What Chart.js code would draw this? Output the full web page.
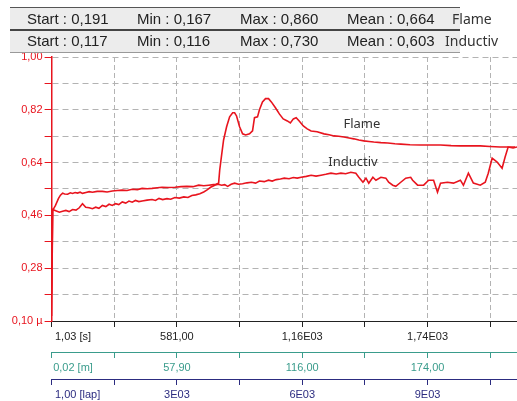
<!DOCTYPE html>
<html>
<head>
<meta charset="utf-8">
<script src="https://cdn.jsdelivr.net/npm/chart.js@4.4.0/dist/chart.umd.min.js"></script>
<style>
  html, body { margin: 0; padding: 0; background: #fff; }
  #wrap { position: relative; width: 517px; height: 401px; overflow: hidden; }
  #chart { position: absolute; left: 0; top: 0; }
  .row { position: absolute; left: 10px; width: 450px; background: #ececec; }
  .stat { position: absolute; font: 15px "Liberation Sans", Arial, sans-serif; color: #222; white-space: nowrap; }
  .name { position: absolute; font: 14px "Noto Sans", sans-serif; color: #333; white-space: nowrap; }
</style>
</head>
<body>
<div id="wrap">
  <canvas id="chart" width="517" height="401"></canvas>
  <div class="row" style="top:7px;height:21px;border-top:1px solid #555;"></div>
  <div class="row" style="top:29px;height:21px;border-top:2px solid #444;border-bottom:1px solid #999;"></div>
  <div id="hdr"></div>
</div>
<script>
'use strict';

// series names and header statistics
const seriesNames = ['Flame', 'Inductiv'];
const statsFlame = ['Start : 0,191', 'Min : 0,167', 'Max : 0,860', 'Mean : 0,664'];
const statsInductiv = ['Start : 0,117', 'Min : 0,116', 'Max : 0,730', 'Mean : 0,603'];

// time axis [s]
const xTicks = [1.03, 291, 581, 871, 1161, 1451, 1741, 2031];
const xLabelsTime = ['1,03 [s]', '', '581,00', '', '1,16E03', '', '1,74E03', ''];
const xLabelsDist = ['0,02 [m]', '', '57,90', '', '116,00', '', '174,00', ''];
const xLabelsLap = ['1,00 [lap]', '', '3E03', '', '6E03', '', '9E03', ''];

// value axis
const yTicks = [0.10, 0.19, 0.28, 0.37, 0.46, 0.55, 0.64, 0.73, 0.82, 0.91, 1.00];
const yLabels = ['0,10 µ', '', '0,28', '', '0,46', '', '0,64', '', '0,82', '', '1,00'];

// Flame series (time, value)
const flameTime = [1, 6, 19, 33, 42, 52, 61, 75, 88, 98, 110, 121, 133, 144, 160, 175, 190, 212, 236, 258,
  282, 305, 328, 350, 374, 398, 420, 444, 466, 490, 512, 540, 572, 600, 627, 655, 682, 705, 728, 750,
  761, 774, 779, 788, 797, 811, 825, 839, 848, 857, 871, 885, 899, 917, 931, 940, 954, 963, 977, 991,
  1005, 1018, 1037, 1055, 1073, 1092, 1106, 1120, 1133, 1147, 1166, 1184, 1202, 1230, 1262, 1285, 1308, 1330, 1354, 1378,
  1400, 1423, 1446, 1470, 1492, 1525, 1557, 1590, 1617, 1660, 1709, 1760, 1801, 1850, 1893, 1940, 1985, 2030, 2077, 2123, 2146];
const flameValue = [0.191, 0.477, 0.494, 0.518, 0.529, 0.536, 0.533, 0.532, 0.537, 0.535, 0.538, 0.536, 0.539, 0.535, 0.538, 0.541, 0.539, 0.542, 0.542, 0.540,
  0.543, 0.545, 0.546, 0.545, 0.549, 0.548, 0.552, 0.551, 0.552, 0.554, 0.556, 0.555, 0.556, 0.558, 0.559, 0.558, 0.563, 0.561, 0.563, 0.565,
  0.566, 0.570, 0.614, 0.666, 0.717, 0.762, 0.796, 0.810, 0.810, 0.799, 0.762, 0.738, 0.734, 0.738, 0.748, 0.793, 0.796, 0.820, 0.847, 0.858,
  0.858, 0.847, 0.827, 0.806, 0.789, 0.782, 0.775, 0.789, 0.793, 0.782, 0.765, 0.755, 0.748, 0.745, 0.738, 0.735, 0.731, 0.730, 0.727, 0.724,
  0.721, 0.717, 0.714, 0.712, 0.710, 0.708, 0.707, 0.704, 0.703, 0.701, 0.700, 0.700, 0.700, 0.698, 0.697, 0.697, 0.697, 0.695, 0.693, 0.693, 0.693];

// Inductiv series (time, value)
const inductivTime = [1, 6, 20, 37, 52, 67, 82, 98, 114, 129, 144, 159, 175, 190, 205, 220, 236, 252, 267, 282,
  297, 312, 328, 344, 359, 374, 389, 405, 420, 443, 466, 482, 498, 515, 535, 552, 572, 592, 613, 632,
  650, 668, 687, 705, 719, 737, 756, 772, 788, 802, 816, 832, 848, 866, 885, 905, 926, 945, 963, 985,
  1005, 1022, 1041, 1060, 1078, 1100, 1120, 1138, 1156, 1180, 1202, 1225, 1248, 1270, 1294, 1318, 1340, 1362, 1386, 1409,
  1423, 1442, 1456, 1469, 1488, 1502, 1525, 1548, 1561, 1580, 1594, 1617, 1640, 1663, 1672, 1695, 1723, 1746, 1769, 1787,
  1801, 1833, 1861, 1893, 1907, 1930, 1953, 1985, 2008, 2022, 2040, 2063, 2086, 2100, 2114, 2137, 2155];
const inductivValue = [0.117, 0.480, 0.476, 0.471, 0.474, 0.477, 0.473, 0.480, 0.478, 0.486, 0.500, 0.488, 0.486, 0.483, 0.488, 0.484, 0.494, 0.490, 0.498, 0.494,
  0.500, 0.497, 0.506, 0.502, 0.509, 0.505, 0.511, 0.507, 0.509, 0.512, 0.514, 0.511, 0.518, 0.514, 0.517, 0.515, 0.521, 0.519, 0.523, 0.521,
  0.528, 0.530, 0.534, 0.540, 0.546, 0.556, 0.563, 0.566, 0.563, 0.565, 0.559, 0.566, 0.570, 0.566, 0.568, 0.571, 0.573, 0.570, 0.577, 0.575,
  0.580, 0.577, 0.582, 0.584, 0.587, 0.585, 0.589, 0.587, 0.590, 0.593, 0.597, 0.594, 0.597, 0.600, 0.604, 0.601, 0.604, 0.602, 0.607, 0.604,
  0.590, 0.573, 0.587, 0.570, 0.590, 0.580, 0.590, 0.587, 0.573, 0.563, 0.559, 0.573, 0.587, 0.590, 0.580, 0.563, 0.563, 0.580, 0.580, 0.539,
  0.570, 0.573, 0.570, 0.580, 0.563, 0.604, 0.570, 0.563, 0.573, 0.604, 0.655, 0.642, 0.621, 0.659, 0.693, 0.690, 0.693];

// in-plot series names, anchored in data units
const plotNames = [
  {text: 'Flame', time: 1437, value: 0.769},
  {text: 'Inductiv', time: 1396, value: 0.642}
];

// header rows
const hdr = document.getElementById('hdr');
const statLeft = [27, 137, 240, 347];
function headerRow(stats, name, top, nameLeft){
  for(let i = 0; i < stats.length; i++){
    const el = document.createElement('div');
    el.className = 'stat';
    el.style.left = statLeft[i] + 'px';
    el.style.top = top + 'px';
    el.textContent = stats[i];
    hdr.appendChild(el);
  }
  const nm = document.createElement('div');
  nm.className = 'name';
  nm.style.left = nameLeft + 'px';
  nm.style.top = (top - 1) + 'px';
  nm.textContent = name;
  hdr.appendChild(nm);
}
headerRow(statsFlame, seriesNames[0], 10, 452);
headerRow(statsInductiv, seriesNames[1], 32, 445);

// left-aligned first label: pad with spaces so the centred text starts at the tick
function padFirst(label, i){
  if(i !== 0) return label;
  return ' '.repeat(Math.round(label.length * 1.7)) + label;
}

function toPoints(xs, ys){
  const pts = [];
  for(let i = 0; i < xs.length; i++){
    pts.push({x: xs[i], y: ys[i]});
  }
  return pts;
}

const red = '#e8141e';
const grey = '#b3b3b3';
const tickFont = {family: '"Liberation Sans", Arial, sans-serif', size: 11};

function bottomAxis(labels, color, weight, height, onChart){
  return {
    type: 'linear',
    position: 'bottom',
    min: 1.03,
    max: 2155,
    weight: weight,
    afterBuildTicks: s => { s.ticks = xTicks.map(v => ({value: v})); },
    afterFit: s => { s.height = height; },
    ticks: {
      color: color,
      font: tickFont,
      padding: 3,
      autoSkip: false,
      maxRotation: 0,
      callback: (v, i) => padFirst(labels[i], i)
    },
    grid: {
      drawOnChartArea: onChart,
      color: c => c.index === 0 ? 'rgba(0,0,0,0)' : grey,
      tickColor: color,
      tickLength: 6
    },
    border: {color: color, width: 1, dash: [5, 3]}
  };
}

// labels inside the plot
const namePlugin = {
  id: 'plotNames',
  afterDatasetsDraw(chart){
    const ctx = chart.ctx;
    const xs = chart.scales.x;
    const ys = chart.scales.y;
    ctx.save();
    ctx.font = '13px "Noto Sans", sans-serif';
    ctx.fillStyle = '#333';
    ctx.textAlign = 'center';
    ctx.textBaseline = 'middle';
    plotNames.forEach(n => {
      ctx.fillText(n.text, xs.getPixelForValue(n.time), ys.getPixelForValue(n.value));
    });
    ctx.restore();
  }
};

new Chart(document.getElementById('chart').getContext('2d'), {
  type: 'line',
  data: {
    datasets: [{
      label: seriesNames[0],
      data: toPoints(flameTime, flameValue),
      borderColor: red,
      borderWidth: 1.6,
      pointRadius: 0,
      tension: 0
    },{
      label: seriesNames[1],
      data: toPoints(inductivTime, inductivValue),
      borderColor: red,
      borderWidth: 1.6,
      pointRadius: 0,
      tension: 0
    }]
  },
  options: {
    responsive: false,
    animation: false,
    layout: {padding: {top: 57, left: 0, right: 0, bottom: 0}},
    plugins: {legend: {display: false}, tooltip: {enabled: false}},
    scales: {
      x: bottomAxis(xLabelsTime, '#222', 1, 31, true),
      x2: bottomAxis(xLabelsDist, '#3a9c8c', 2, 27, false),
      x3: bottomAxis(xLabelsLap, '#2c2c80', 3, 22, false),
      y: {
        type: 'linear',
        position: 'left',
        min: 0.10,
        max: 1.00,
        afterBuildTicks: s => { s.ticks = yTicks.map(v => ({value: v})); },
        afterFit: s => { s.width = 49; },
        ticks: {
          color: red,
          font: tickFont,
          padding: 2,
          autoSkip: false,
          callback: (v, i) => yLabels[i]
        },
        grid: {
          color: c => c.index === 0 ? 'rgba(0,0,0,0)' : grey,
          tickColor: red,
          tickLength: 7
        },
        border: {color: red, width: 1.5, dash: [6, 4]}
      }
    }
  },
  plugins: [namePlugin]
});
</script>
</body>
</html>
